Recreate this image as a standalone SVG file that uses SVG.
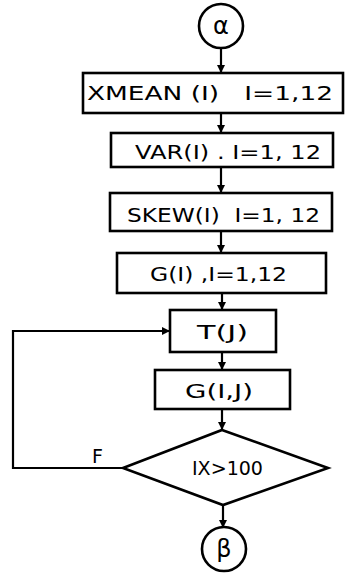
<svg xmlns="http://www.w3.org/2000/svg" width="351" height="573" viewBox="0 0 351 573">
<defs>
<marker id="ah" markerWidth="8" markerHeight="8" refX="7" refY="4" orient="auto" markerUnits="userSpaceOnUse">
<path d="M0,0 L8,4 L0,8 Z" fill="#000"/>
</marker>
</defs>
<style>
.b{fill:#fff;stroke:#000;stroke-width:2.6}
.c{fill:none;stroke:#000;stroke-width:2.2}
.t{font-family:"DejaVu Sans","Liberation Sans",sans-serif;font-size:19px;fill:#000}
.g{font-family:"DejaVu Sans",sans-serif;font-size:24px;fill:#000;text-anchor:middle}
</style>
<rect width="351" height="573" fill="#fff"/>
<g id="connectors">
<line class="c" x1="221" y1="48" x2="221" y2="72" marker-end="url(#ah)"/>
<line class="c" x1="221" y1="113" x2="221" y2="132" marker-end="url(#ah)"/>
<line class="c" x1="221" y1="167" x2="221" y2="192" marker-end="url(#ah)"/>
<line class="c" x1="221" y1="231" x2="221" y2="252" marker-end="url(#ah)"/>
<line class="c" x1="222" y1="293" x2="222" y2="309" marker-end="url(#ah)"/>
<line class="c" x1="222" y1="352" x2="222" y2="369" marker-end="url(#ah)"/>
<line class="c" x1="222" y1="409" x2="222" y2="429" marker-end="url(#ah)"/>
<line class="c" x1="223" y1="505" x2="223" y2="527" marker-end="url(#ah)"/>
<polyline class="c" points="123,468 13,468 13,331 169,331" marker-end="url(#ah)"/>
<text class="t" x="92" y="463">F</text>
</g>
<g id="alpha">
<circle class="b" cx="221" cy="26" r="22"/>
<text class="g" x="221" y="34">α</text>
</g>
<g id="xmean">
<rect class="b" x="83" y="73" width="260" height="40"/>
<text class="t" x="87" y="100" textLength="246" lengthAdjust="spacingAndGlyphs" xml:space="preserve">XMEAN (I)   I=1,12</text>
</g>
<g id="var">
<rect class="b" x="111" y="133" width="222" height="34"/>
<text class="t" x="135" y="159" textLength="186" lengthAdjust="spacingAndGlyphs">VAR(I) . I=1, 12</text>
</g>
<g id="skew">
<rect class="b" x="110" y="193" width="222" height="38"/>
<text class="t" x="127" y="222" textLength="193" lengthAdjust="spacingAndGlyphs" xml:space="preserve">SKEW(I)  I=1, 12</text>
</g>
<g id="g1">
<rect class="b" x="117" y="253" width="209" height="40"/>
<text class="t" x="150" y="281" textLength="137" lengthAdjust="spacingAndGlyphs">G(I) ,I=1,12</text>
</g>
<g id="tj">
<rect class="b" x="170" y="310" width="106" height="42"/>
<text class="t" x="197" y="339" textLength="51" lengthAdjust="spacingAndGlyphs">T(J)</text>
</g>
<g id="gij">
<rect class="b" x="155" y="370" width="135" height="39"/>
<text class="t" x="185" y="398" textLength="68" lengthAdjust="spacingAndGlyphs">G(I,J)</text>
</g>
<g id="decision">
<polygon class="b" points="222,430 328,468 223,505 123,468"/>
<text class="t" x="192" y="475" textLength="71" lengthAdjust="spacingAndGlyphs">IX&gt;100</text>
</g>
<g id="beta">
<circle class="b" cx="224" cy="549" r="22"/>
<text class="g" x="224" y="557">β</text>
</g>
</svg>
